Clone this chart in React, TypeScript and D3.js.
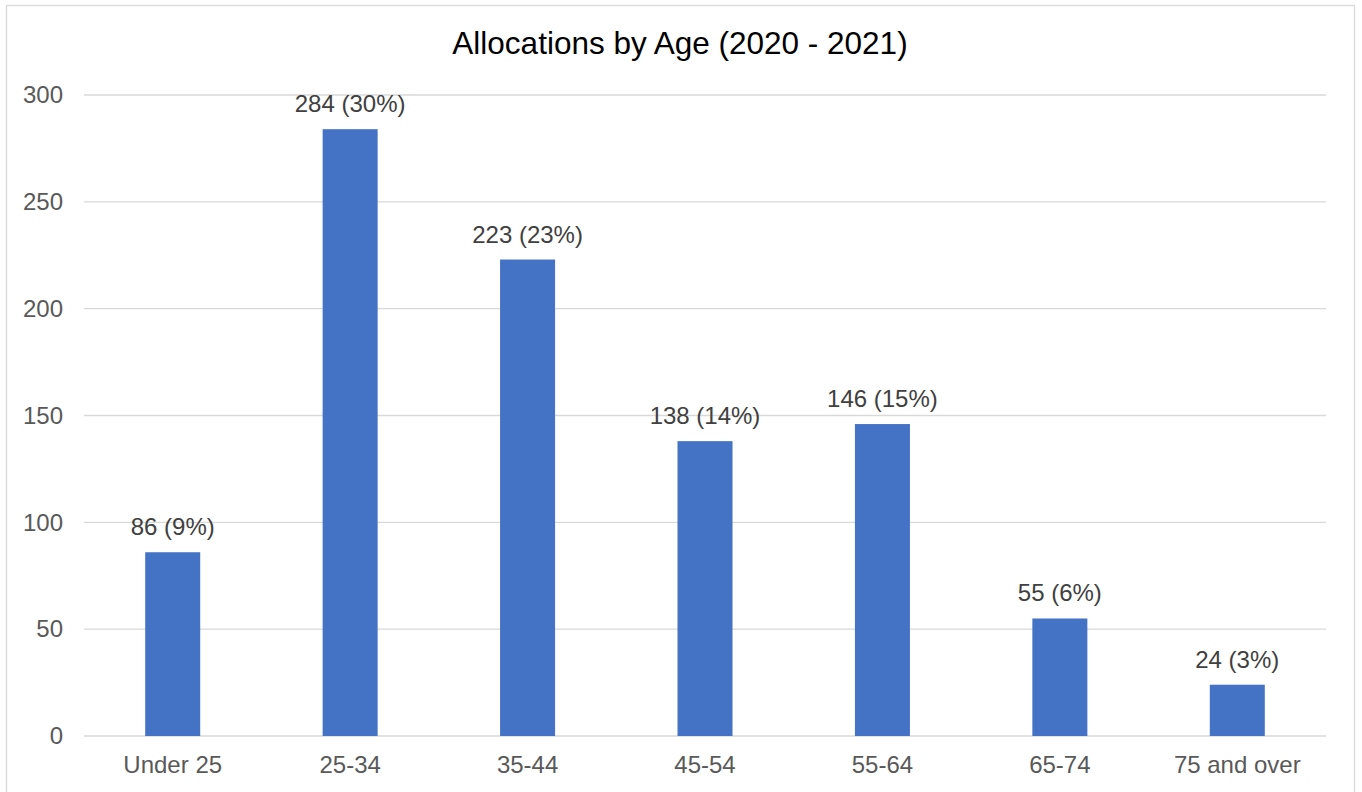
import React from "react";
import * as d3 from "d3";

const categories = ["Under 25", "25-34", "35-44", "45-54", "55-64", "65-74", "75 and over"];
const values = [86, 284, 223, 138, 146, 55, 24];
const percents = ["9%", "30%", "23%", "14%", "15%", "6%", "3%"];
const yTicks = [0, 50, 100, 150, 200, 250, 300];
const title = "Allocations by Age (2020 - 2021)";

export default function App() {
  const W = 1362, H = 792;
  const left = 84, right = 1326, top = 95, bottom = 736;
  const x = d3.scaleBand<string>().domain(categories).range([left, right]).paddingInner(0.69).paddingOuter(0.345);
  const y = d3.scaleLinear().domain([0, 300]).range([bottom, top]);
  const font = "'Liberation Sans', Arial, sans-serif";
  return (
    <svg width={W} height={H} style={{ position: "absolute", left: 0, top: 0, background: "#fff" }} fontFamily={font}>
      <rect x={6.5} y={5.5} width={1348} height={800} fill="#fff" stroke="#d9d9d9" strokeWidth={1.3} />
      <text x={680} y={54} textAnchor="middle" fontSize={31.5} fill="#000">{title}</text>
      {yTicks.map((t) => (
        <g key={t}>
          <line x1={left} x2={right} y1={y(t)} y2={y(t)} stroke="#d9d9d9" strokeWidth={1.3} />
          <text x={63} y={y(t) + 8.3} textAnchor="end" fontSize={24} fill="#595959">{t}</text>
        </g>
      ))}
      {categories.map((c, i) => (
        <g key={c}>
          <rect x={x(c)} y={y(values[i])} width={x.bandwidth()} height={bottom - y(values[i])} fill="#4472C4" />
          <text x={(x(c) as number) + x.bandwidth() / 2} y={y(values[i]) - 17} textAnchor="middle" fontSize={24} fill="#404040">
            {`${values[i]} (${percents[i]})`}
          </text>
          <text x={(x(c) as number) + x.bandwidth() / 2} y={773} textAnchor="middle" fontSize={24} fill="#595959">{c}</text>
        </g>
      ))}
    </svg>
  );
}
